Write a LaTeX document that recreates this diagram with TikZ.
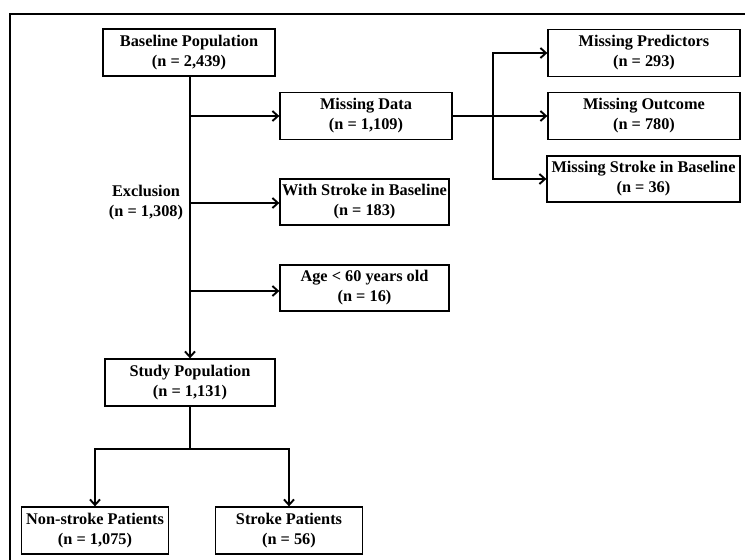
\documentclass[tikz,border=0pt]{standalone}
\usepackage{fontspec}
\setmainfont{Liberation Serif}
\usetikzlibrary{arrows.meta}
\begin{document}
\begin{tikzpicture}[x=1pt,y=-1pt,
    box/.style={draw,line width=1.3pt,inner sep=0pt,align=center,
        font=\fontsize{16.3}{20}\selectfont\bfseries},
    flow/.style={line width=1.9pt},
    >={Straight Barb[length=5.5pt,width=10pt]}]
            \useasboundingbox (0,0) rectangle (745,560);
            \draw[line width=1.3pt] (10,560)--(10,14)--(745,14);
            \node[box,minimum width=172,minimum height=47] (base) at (189,52.5) {Baseline Population\\(n = 2,439)};
            \node[box,minimum width=172,minimum height=47] (missdata) at (366,116) {Missing Data\\(n = 1,109)};
            \node[box,minimum width=169,minimum height=46] (withstroke) at (364.5,202) {With Stroke in Baseline\\(n = 183)};
            \node[box,minimum width=169,minimum height=46] (age) at (364.5,288) {Age < 60 years old\\(n = 16)};
            \node[box,minimum width=170,minimum height=47] (study) at (190,382.5) {Study Population\\(n = 1,131)};
            \node[box,minimum width=147,minimum height=47] (nonstroke) at (95,530.5) {Non-stroke Patients\\(n = 1,075)};
            \node[box,minimum width=147,minimum height=47] (strokepat) at (289,530.5) {Stroke Patients\\(n = 56)};
            \node[box,minimum width=192,minimum height=47] (misspred) at (644,53) {Missing Predictors\\(n = 293)};
            \node[box,minimum width=192,minimum height=47] (missout) at (644,116) {Missing Outcome\\(n = 780)};
            \node[box,minimum width=193,minimum height=46] (missbase) at (643.5,179) {Missing Stroke in Baseline\\(n = 36)};
            \node[align=center,font=\fontsize{16.3}{20}\selectfont\bfseries] (excl) at (146,203) {Exclusion\\(n = 1,308)};

            \coordinate (t1) at (190,116);
            \coordinate (t2) at (190,203);
            \coordinate (t3) at (190,291);
            \coordinate (split) at (493,116);
            \coordinate (fork) at (190,449);

            \draw[flow,->] (base.south-|t1)--(study.north-|t1);
            \draw[flow,->] (t1)--(missdata.west|-t1);
            \draw[flow,->] (t2)--(withstroke.west|-t2);
            \draw[flow,->] (t3)--(age.west|-t3);
            \draw[flow,->] (missdata.east)--(missout.west);
            \draw[flow,->] (split)|-(misspred.west);
            \draw[flow,->] (split)|-(missbase.west);
            \draw[flow] (study.south-|fork)--(fork);
            \draw[flow,->] (fork)-|(nonstroke.north);
            \draw[flow,->] (fork)-|(strokepat.north);
        \end{tikzpicture}
\end{document}
